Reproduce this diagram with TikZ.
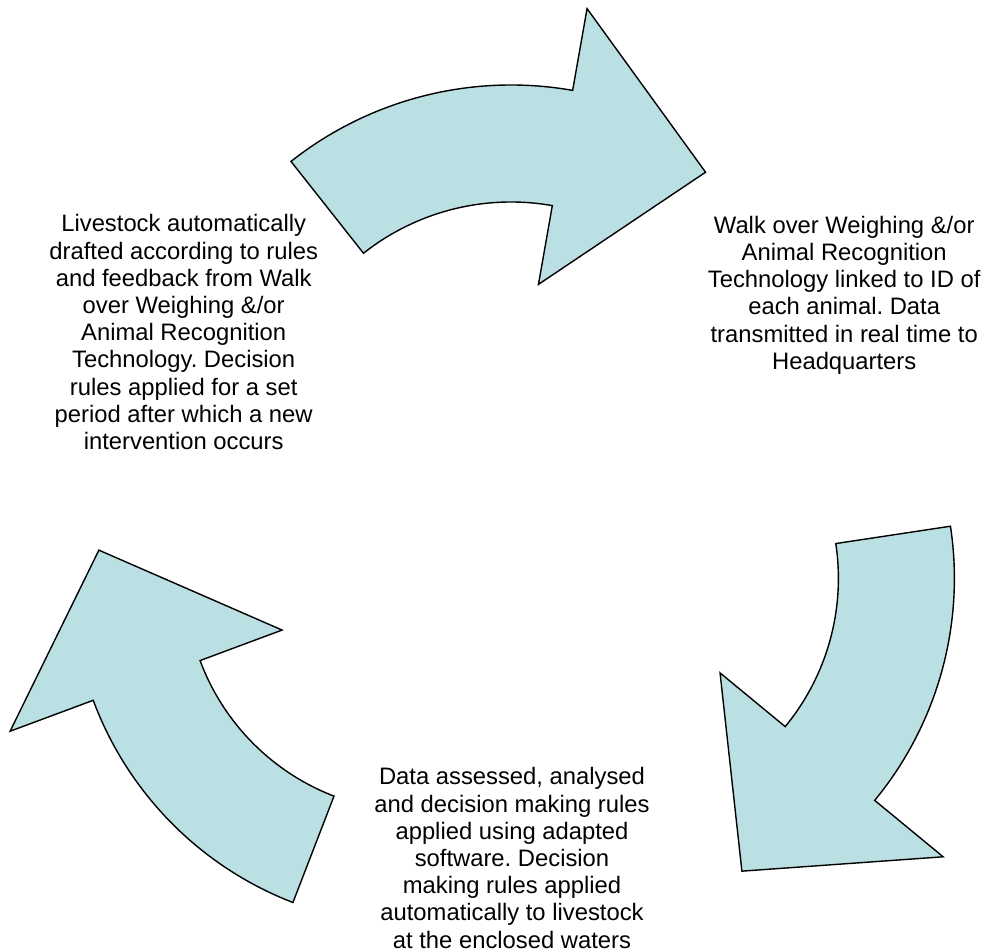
\documentclass[tikz,border=0pt]{standalone}
\usepackage{fontspec}
\setmainfont{Liberation Sans}
\frenchspacing
\definecolor{arrowfill}{RGB}{187,224,227}
\tikzset{
  cyclearrow/.style={fill=arrowfill, draw=black, line width=1.4pt, line join=miter, miter limit=10},
  label/.style={align=center, inner sep=0pt, anchor=base, font=\fontsize{23.8pt}{27.2pt}\selectfont}
}
\begin{document}
\begin{tikzpicture}[x=1pt,y=1pt]
\useasboundingbox (0,0) rectangle (984,951);
% top arrow
\begin{scope}[shift={(511,511)}]
\draw[cyclearrow] (128.3:355) arc[start angle=128.3, end angle=80, radius=355]
  -- (80:438) -- (54:331) -- (80:158) -- (80:238)
  arc[start angle=80, end angle=128.3, radius=238] -- cycle;
\end{scope}
% right arrow
\begin{scope}[shift={(605.4,372.6)}]
\draw[cyclearrow] (8.6:349) arc[start angle=8.6, end angle=-39.5, radius=349]
  -- (-39.5:437.7) -- (-65:323) -- (-39.5:148.6) -- (-39.5:233)
  arc[start angle=-39.5, end angle=8.6, radius=233] -- cycle;
\end{scope}
% left arrow
\begin{scope}[shift={(417.5,371.3)}]
\draw[cyclearrow] (248.9:346) arc[start angle=248.9, end angle=200.4, radius=346]
  -- (200.4:434.7) -- (174.7:320) -- (200.4:144.5) -- (200.4:232)
  arc[start angle=200.4, end angle=248.9, radius=232] -- cycle;
\end{scope}
\node[label] (left) at (183.7,501.4) {Livestock automatically\\drafted according to rules\\and feedback from Walk\\over Weighing \&/or\\Animal Recognition\\Technology. Decision\\rules applied for a set\\period after which a new\\intervention occurs};
\node[label] (right) at (844.2,581.7) {Walk over Weighing \&/or\\Animal Recognition\\Technology linked to ID of\\each animal. Data\\transmitted in real time to\\Headquarters};
\node[label] (bottom) at (512,3) {Data assessed, analysed\\and decision making rules\\applied using adapted\\software. Decision\\making rules applied\\automatically to livestock\\at the enclosed waters};
\end{tikzpicture}
\end{document}
